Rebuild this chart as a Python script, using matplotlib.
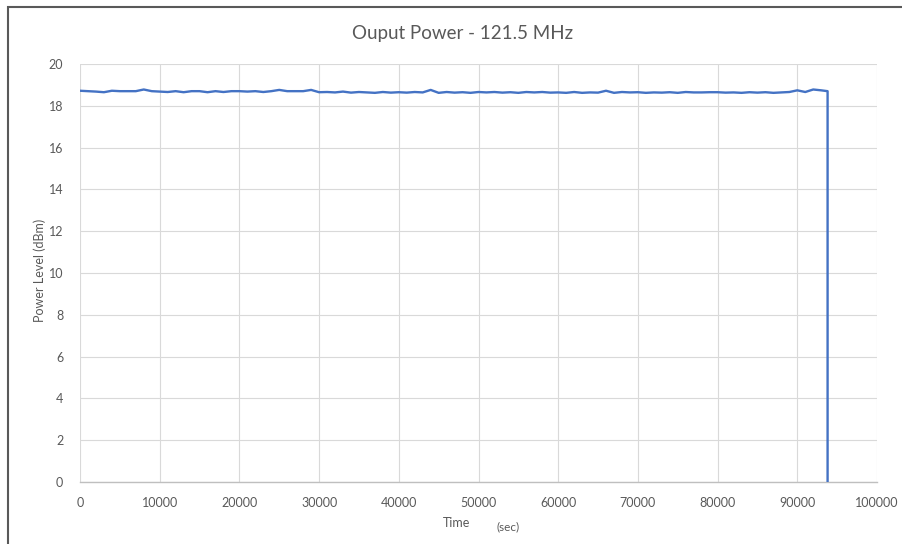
# plot.py
# Output power vs time at 121.5 MHz, redrawn from a spreadsheet chart

import matplotlib
matplotlib.use("Agg")
import matplotlib.pyplot as plt

time_s = list(range(0, 94000, 1000)) + [93800, 93800]
power_dbm = [
    18.72, 18.70, 18.68, 18.65, 18.72, 18.70, 18.70, 18.70, 18.78, 18.70,
    18.68, 18.66, 18.70, 18.65, 18.70, 18.70, 18.65, 18.70, 18.66, 18.70,
    18.70, 18.68, 18.70, 18.66, 18.70, 18.76, 18.70, 18.70, 18.70, 18.76,
    18.65, 18.66, 18.64, 18.68, 18.63, 18.66, 18.64, 18.62, 18.66, 18.63,
    18.65, 18.63, 18.66, 18.64, 18.76, 18.62, 18.66, 18.63, 18.65, 18.62,
    18.66, 18.64, 18.66, 18.63, 18.65, 18.62, 18.66, 18.64, 18.66, 18.63,
    18.64, 18.62, 18.66, 18.62, 18.64, 18.63, 18.72, 18.62, 18.66, 18.64,
    18.65, 18.62, 18.64, 18.63, 18.65, 18.62, 18.66, 18.64, 18.64, 18.65,
    18.65, 18.63, 18.64, 18.62, 18.65, 18.63, 18.65, 18.62, 18.64, 18.66,
    18.74, 18.66, 18.78, 18.74, 18.70, 0.0,
]
x_ticks = list(range(0, 100001, 10000))
y_ticks = list(range(0, 21, 2))

# style
plt.rcParams['font.family'] = ['Lato', 'DejaVu Sans']
text_col = '#595959'
line_col = '#4472C4'
grid_col = '#D9D9D9'

fig = plt.figure(figsize=(9.02, 5.44), dpi=100)
ax = fig.add_axes([80 / 902, 1 - 482 / 544, 797 / 902, 418 / 544])

ax.plot(time_s, power_dbm, color=line_col, linewidth=1.7, zorder=3)

ax.set_xlim(0, 100000)
ax.set_ylim(0, 20)
ax.set_xticks(x_ticks)
ax.set_yticks(y_ticks)
ax.grid(True, color=grid_col, linewidth=0.8)
ax.set_axisbelow(True)
for s in ['top', 'right', 'left']:
    ax.spines[s].set_visible(False)
ax.spines['bottom'].set_color('#BFBFBF')
ax.spines['bottom'].set_linewidth(1.0)
ax.tick_params(length=0, labelsize=9, labelcolor=text_col)
ax.tick_params(axis='x', pad=11)
ax.tick_params(axis='y', pad=12)

# axis titles and chart title
fig.text(40 / 902, 1 - 270 / 544, "Power Level (dBm)", fontsize=9,
         color=text_col, rotation=90, ha='center', va='center')
fig.text(457 / 902, 1 - 523 / 544, "Time", fontsize=9, color=text_col,
         ha='center', va='center')
fig.text(508 / 902, 1 - 527 / 544, "(sec)", fontsize=8.5, color=text_col,
         ha='center', va='center')
fig.text(463 / 902, 1 - 34 / 544, "Ouput Power - 121.5 MHz", fontsize=13.5,
         color=text_col, ha='center', va='center')

# chart frame (runs off the right and bottom of the picture)
frame = plt.Rectangle((8 / 902, -0.05), 1.1, 1 - 7 / 544 + 0.05,
                      transform=fig.transFigure, fill=False,
                      edgecolor='#595959', linewidth=1.5)
fig.add_artist(frame)

fig.savefig("out.png", dpi=100)
